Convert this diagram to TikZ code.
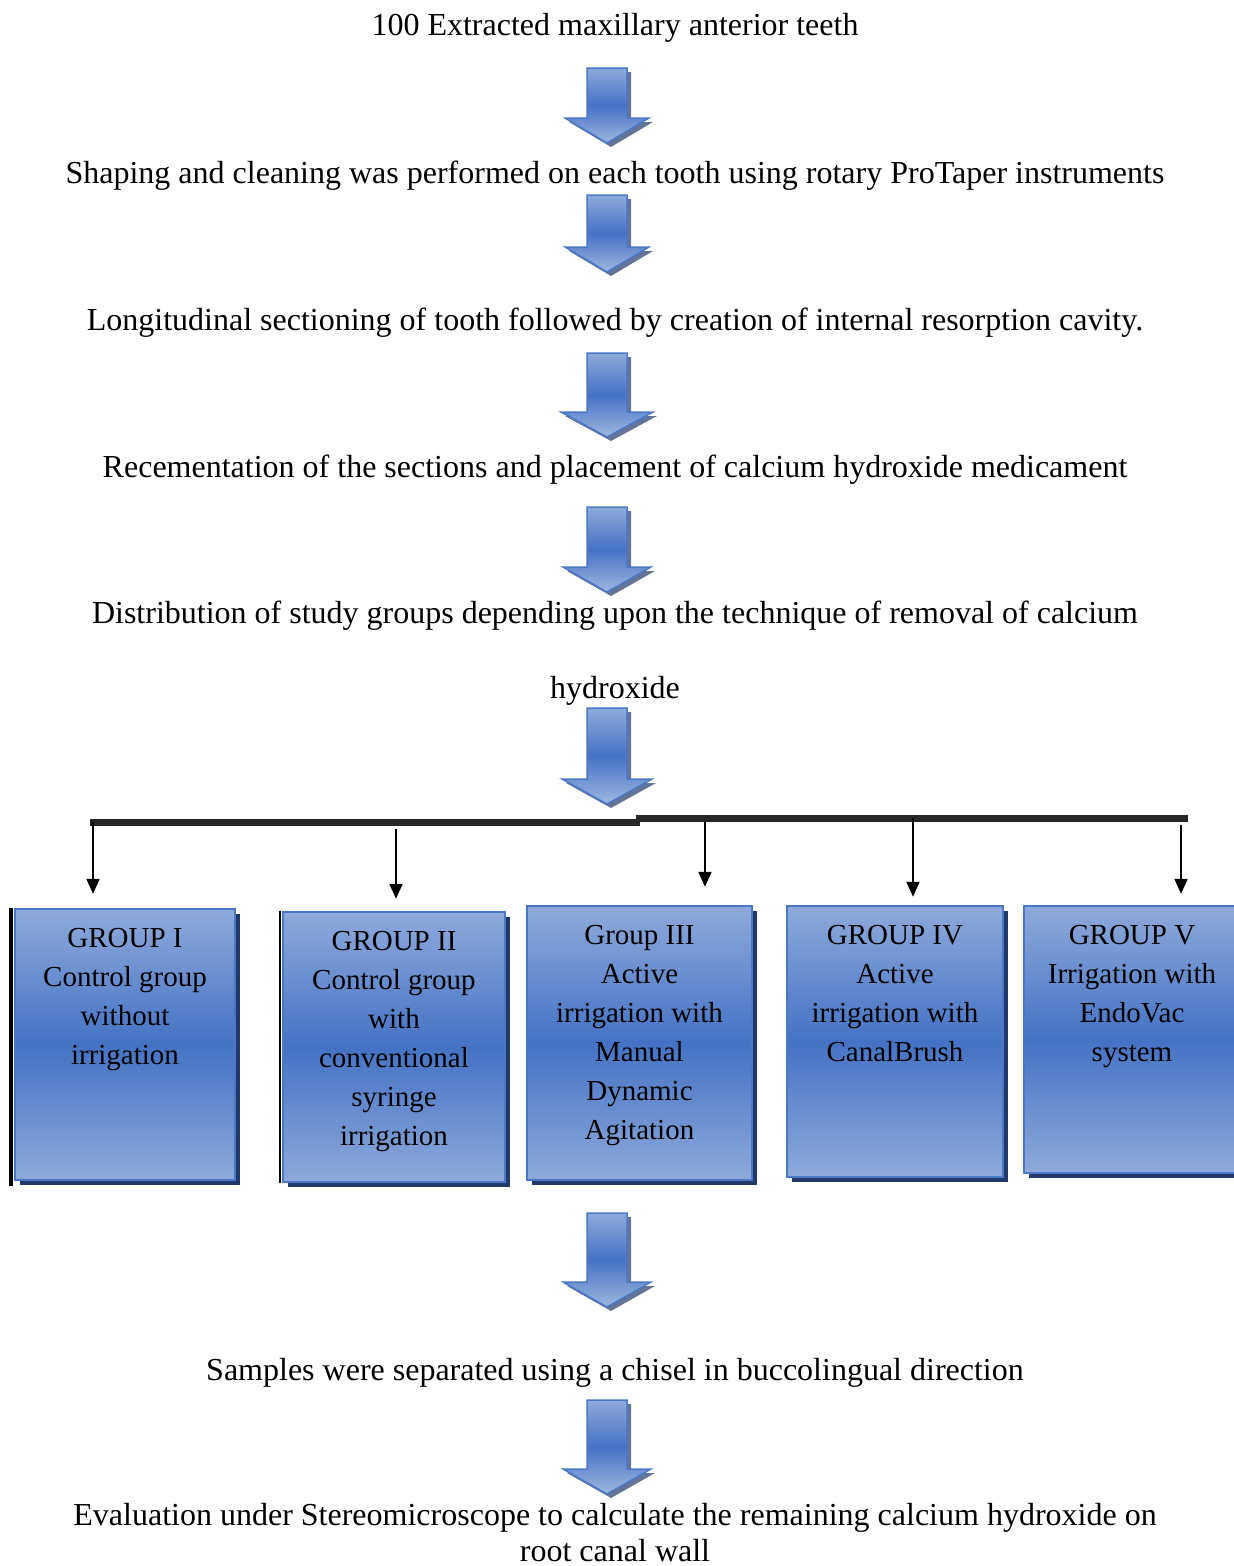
\documentclass[tikz,border=0pt]{standalone}
\usepackage{fontspec}
\setmainfont{Liberation Serif}
\usetikzlibrary{shadows,arrows.meta}
\definecolor{boxlight}{HTML}{8EAADB}
\definecolor{boxmid}{HTML}{4472C4}
\definecolor{boxedge}{HTML}{4A78C8}
\definecolor{boxshadow}{HTML}{22396B}
\definecolor{barcol}{HTML}{262626}
\newcommand{\grouptext}[3]{\parbox[c][#2][t]{#1}{\centering #3}}
% block arrow: name, x, top, bottom, half head width
\newcommand{\blockarrow}[5]{%
  \path[blockarrow] (#2-20,#3) -- (#2+20,#3) -- (#2+20,#4-25) -- (#2+#5,#4-25)
    -- (#2,#4) -- (#2-#5,#4-25) -- (#2-20,#4-25) -- cycle;
  \coordinate (#1) at (#2,{(#3+#4)/2});}

\begin{document}
\begin{tikzpicture}[x=1pt, y=-1pt]
  \tikzset{steptext/.style = {anchor=base, inner sep=0pt,
      font=\fontsize{32}{37}\selectfont},
    blockarrow/.style = {top color=boxlight, bottom color=boxlight!85!white,
      middle color=boxmid, draw=boxedge, line width=1.5pt, line join=miter,
      drop shadow={shadow xshift=4pt, shadow yshift=-4pt,
        fill=boxshadow, opacity=.7}},
    groupbox/.style = {rectangle, inner sep=0pt,
      top color=boxlight, bottom color=boxlight, middle color=boxmid,
      draw=boxedge, line width=2.5pt,
      drop shadow={shadow xshift=5pt, shadow yshift=-5pt,
        fill=boxshadow, opacity=1},
      font=\fontsize{29}{39}\selectfont},
    thinarrow/.style = {line width=2pt,
      -{Triangle[length=15pt, width=13pt]}}}
  \useasboundingbox (0,0) rectangle (1234,1566);

  % steps
  \node[steptext] (s1) at (615,35) {100 Extracted maxillary anterior teeth};
  \blockarrow{a1}{607}{68}{143}{42}
  \node[steptext] (s2) at (615,183) {Shaping and cleaning was performed on each tooth using rotary ProTaper instruments};
  \blockarrow{a2}{607}{195}{272}{42}
  \node[steptext] (s3) at (615,330) {Longitudinal sectioning of tooth followed by creation of internal resorption cavity.};
  \blockarrow{a3}{607}{353}{437}{46}
  \node[steptext] (s4) at (615,477) {Recementation of the sections and placement of calcium hydroxide medicament};
  \blockarrow{a4}{607}{507}{592}{44}
  % base of a two-line node sits on its last line
  \node[steptext, align=center, font=\fontsize{32}{75}\selectfont] (s5) at (615,698)
    {Distribution of study groups depending upon the technique of removal of calcium\\hydroxide};
  \blockarrow{a5}{607}{708}{804}{45}

  % branching bar
  \draw[barcol, line width=7pt] (90,822) -- (640,822);
  \draw[barcol, line width=7pt] (636,818) -- (1188,818);
  \coordinate (t1) at (93,822);
  \coordinate (t2) at (396,829);
  \coordinate (t3) at (705,822);
  \coordinate (t4) at (913,818);
  \coordinate (t5) at (1181,825);

  % groups
  \node[groupbox, minimum width=220pt, minimum height=271pt] (g1) at (125,1044.5)
    {\grouptext{210pt}{233pt}{GROUP I\\Control group\\without\\irrigation}};
  \node[groupbox, minimum width=222pt, minimum height=270pt] (g2) at (394,1047)
    {\grouptext{212pt}{232pt}{GROUP II\\Control group\\with\\conventional\\syringe\\irrigation}};
  \node[groupbox, minimum width=225pt, minimum height=274pt] (g3) at (639.5,1043)
    {\grouptext{215pt}{236pt}{Group III\\Active\\irrigation with\\Manual\\Dynamic\\Agitation}};
  \node[groupbox, minimum width=216pt, minimum height=271pt] (g4) at (895,1041.5)
    {\grouptext{206pt}{233pt}{GROUP IV\\Active\\irrigation with\\CanalBrush}};
  \node[groupbox, minimum width=216pt, minimum height=267pt] (g5) at (1132,1039.5)
    {\grouptext{206pt}{229pt}{GROUP V\\Irrigation with\\EndoVac\\system}};
  \draw[line width=4pt] ([xshift=-3pt]g1.north west) -- ([xshift=-3pt, yshift=-5pt]g1.south west);
  \draw[line width=2pt] ([xshift=-2pt]g2.north west) -- ([xshift=-2pt]g2.south west);

  \draw[thinarrow, shorten >=14pt] (t1) -- (t1 |- g1.north);
  \draw[thinarrow, shorten >=12pt] (t2) -- (t2 |- g2.north);
  \draw[thinarrow, shorten >=18pt] (t3) -- (t3 |- g3.north);
  \draw[thinarrow, shorten >=8pt] (t4) -- (t4 |- g4.north);
  \draw[thinarrow, shorten >=11pt] (t5) -- (t5 |- g5.north);

  \blockarrow{a6}{607}{1213}{1307}{44}
  \node[steptext] (s6) at (615,1380) {Samples were separated using a chisel in buccolingual direction};
  \blockarrow{a7}{607}{1400}{1494}{44}
  \node[steptext, align=center, font=\fontsize{32}{36}\selectfont] (s7) at (615,1561)
    {Evaluation under Stereomicroscope to calculate the remaining calcium hydroxide on\\root canal wall};
\end{tikzpicture}
\end{document}
